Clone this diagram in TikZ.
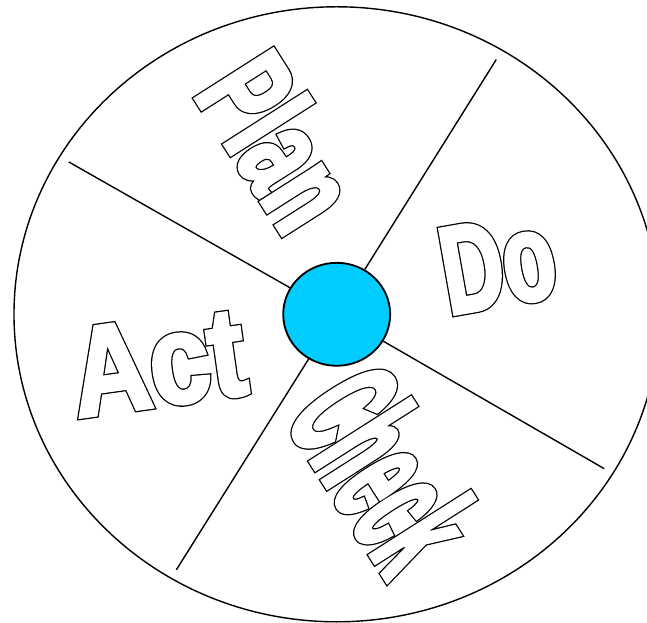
\documentclass[tikz,border=0pt]{standalone}
\usepackage{fontspec}
\usetikzlibrary{shapes.geometric}

\newfontfamily\pdcafont{Liberation Sans}
\definecolor{hubblue}{HTML}{00CCFF}
% outlined heavy letters: thick black stroke, then white fill and stroke on top
\newcommand\hollowtext[1]{%
  \rlap{\special{pdf:literal direct 2 Tr 4.4 w 4 M}#1}%
  {\color{white}\special{pdf:literal direct 2 Tr 2.6 w}#1}%
  \special{pdf:literal direct 0 Tr}}
\newcommand\wordfont[2]{\pdcafont\bfseries\fontsize{#1}{#1}\selectfont\addfontfeatures{FakeStretch=#2}}

\begin{document}
\begin{tikzpicture}[line width=1pt,word/.style={inner sep=0pt,anchor=base west}]
  \useasboundingbox (-8.42,-7.71) rectangle (7.76,7.86);
  \clip (-8.42,-7.71) rectangle (7.76,7.86);
  % rueda exterior
  \draw (0,0) ellipse (8.07 and 7.69);
  % extremos de los radios
  \coordinate (rimPD) at (3.99,6.37);
  \coordinate (rimDC) at (6.69,-3.86);
  \coordinate (rimCA) at (-4.01,-6.39);
  \coordinate (rimAP) at (-6.70,3.81);
  % centro
  \node[ellipse,draw,fill=hubblue,line width=1.3pt,inner sep=0pt,
        minimum width=2.675cm,minimum height=2.575cm] (hub) at (0,0) {};
  \foreach \r in {rimPD,rimDC,rimCA,rimAP}
    \draw (\r) -- (hub);
  % palabras del ciclo
  \node[word,rotate=-57.5,font=\wordfont{95.1pt}{0.61}] (plan) at (-3.61,5.52) {\hollowtext{Plan}};
  \node[word,rotate=10,font=\wordfont{88.8pt}{0.68}] (do) at (2.80,-0.02) {\hollowtext{Do}};
  \node[word,rotate=-57.5,font=\wordfont{116.3pt}{0.394}] (check) at (-1.34,-2.60) {\hollowtext{Check}};
  \node[word,rotate=8,font=\wordfont{90.2pt}{0.852}] (act) at (-6.49,-2.58) {\hollowtext{Act}};
\end{tikzpicture}
\end{document}
